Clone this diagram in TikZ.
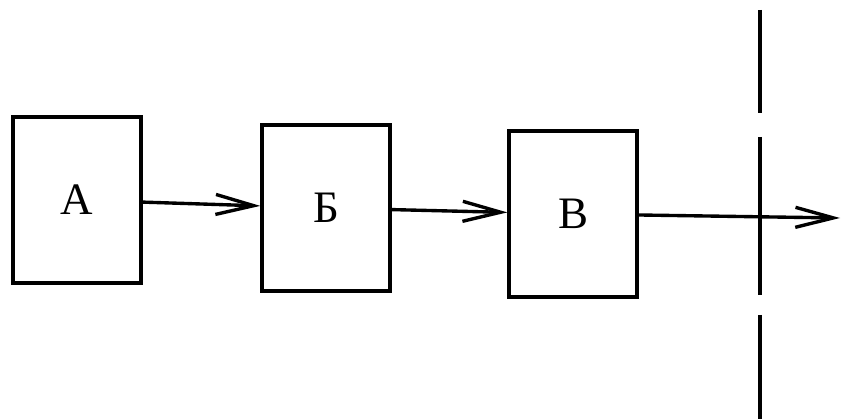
\documentclass[tikz,border=0pt]{standalone}
\usepackage{fontspec}
\setmainfont{Liberation Serif}
\usetikzlibrary{arrows.meta}
\begin{document}
\begin{tikzpicture}[x=0.025cm,y=-0.025cm,font=\fontsize{32}{32}\selectfont,
        block/.style={draw,line width=2.4pt,minimum width=3.2cm,minimum height=4.15cm,inner sep=0pt},
        flow/.style={line width=2.4pt,-{Straight Barb[length=0.95cm,width=0.5cm,line width=2.4pt]}}]
                \useasboundingbox (0,0) rectangle (842,419);
                \node[block] (A) at (77,200) {А};
                \node[block] (B) at (326,208) {Б};
                \node[block] (V) at (573,214) {В};
                \coordinate (out) at (840,218);
                \draw[flow] (A) -- (B);
                \draw[flow] (B) -- (V);
                \draw[flow] (V) -- (out);
                \foreach \a/\b in {10/113,137/295,315/419}
                    \draw[line width=2.4pt] (760,\a) -- (760,\b);
            \end{tikzpicture}
\end{document}
